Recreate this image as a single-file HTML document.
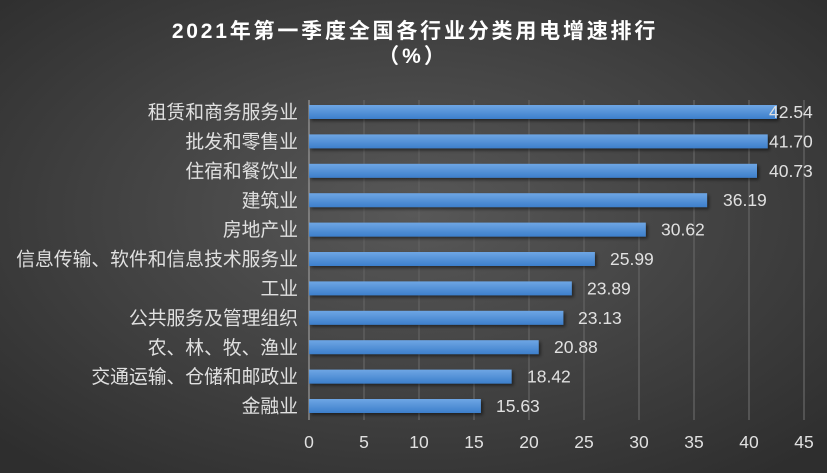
<!DOCTYPE html>
<html><head><meta charset="utf-8"><style>
html,body{margin:0;padding:0;overflow:hidden;background:#2e2e2e}
svg{display:block}
svg text{font-family:"Liberation Sans","Noto Sans CJK SC",sans-serif}
</style></head><body>
<svg width="827" height="473" xmlns="http://www.w3.org/2000/svg">
<defs>
<radialGradient id="bg" cx="50%" cy="45%" r="70%">
<stop offset="0" stop-color="#585858"/><stop offset="1" stop-color="#2e2e2e"/>
</radialGradient>
<linearGradient id="bar" x1="0" y1="0" x2="0" y2="1">
<stop offset="0" stop-color="#6ea6e4"/><stop offset="1" stop-color="#3d7fcb"/>
</linearGradient>
<filter id="sh"><feDropShadow dx="2" dy="2" stdDeviation="1.5" flood-color="#000" flood-opacity="0.5"/></filter>
</defs>
<rect width="827" height="473" fill="url(#bg)"/>
<text x="415" y="38" text-anchor="middle" font-size="21" font-weight="bold" fill="#fff" letter-spacing="2.8">2021年第一季度全国各行业分类用电增速排行</text>
<text x="413" y="63" text-anchor="middle" font-size="21" font-weight="bold" fill="#fff" letter-spacing="3">（%）</text>
<g stroke="#5e5e5e" stroke-width="1.5">
<line x1="364" y1="100" x2="364" y2="420"/><line x1="419" y1="100" x2="419" y2="420"/>
<line x1="474" y1="100" x2="474" y2="420"/><line x1="529" y1="100" x2="529" y2="420"/>
<line x1="584" y1="100" x2="584" y2="420"/><line x1="639" y1="100" x2="639" y2="420"/>
<line x1="694" y1="100" x2="694" y2="420"/><line x1="749" y1="100" x2="749" y2="420"/>
<line x1="804" y1="100" x2="804" y2="420"/>
</g>
<line x1="309" y1="100" x2="309" y2="420" stroke="#8a8a8a" stroke-width="1.5"/>
<g font-size="17.5" fill="#e0e0e0" text-anchor="middle">
<text x="309" y="448">0</text><text x="364" y="448">5</text><text x="419" y="448">10</text><text x="474" y="448">15</text><text x="529" y="448">20</text><text x="584" y="448">25</text><text x="639" y="448">30</text><text x="694" y="448">35</text><text x="749" y="448">40</text><text x="804" y="448">45</text>
</g>
<g filter="url(#sh)" fill="url(#bar)">
<rect x="309" y="105" width="468" height="14"/>
<rect x="309" y="134.4" width="458.7" height="14"/>
<rect x="309" y="163.8" width="448" height="14"/>
<rect x="309" y="193.2" width="398.1" height="14"/>
<rect x="309" y="222.6" width="336.8" height="14"/>
<rect x="309" y="252" width="285.9" height="14"/>
<rect x="309" y="281.4" width="262.8" height="14"/>
<rect x="309" y="310.8" width="254.4" height="14"/>
<rect x="309" y="340.2" width="229.7" height="14"/>
<rect x="309" y="369.6" width="202.6" height="14"/>
<rect x="309" y="399" width="171.9" height="14"/>
</g>
<g font-size="17.5" fill="#e0e0e0">
<text x="769" y="118">42.54</text>
<text x="769" y="147.4">41.70</text>
<text x="769" y="176.8">40.73</text>
<text x="723" y="206.2">36.19</text>
<text x="661" y="235.6">30.62</text>
<text x="610" y="265">25.99</text>
<text x="587" y="294.4">23.89</text>
<text x="578" y="323.8">23.13</text>
<text x="554" y="353.2">20.88</text>
<text x="527" y="382.6">18.42</text>
<text x="496" y="412">15.63</text>
</g>
<g font-size="18.8" fill="#e0e0e0" text-anchor="end">
<text x="298" y="118.5">租赁和商务服务业</text>
<text x="298" y="148">批发和零售业</text>
<text x="298" y="177.4">住宿和餐饮业</text>
<text x="298" y="206.8">建筑业</text>
<text x="298" y="236.2">房地产业</text>
<text x="298" y="265.6">信息传输、软件和信息技术服务业</text>
<text x="298" y="295">工业</text>
<text x="298" y="324.4">公共服务及管理组织</text>
<text x="298" y="353.8">农、林、牧、渔业</text>
<text x="298" y="383.2">交通运输、仓储和邮政业</text>
<text x="298" y="412.6">金融业</text>
</g>
</svg>
</body></html>
